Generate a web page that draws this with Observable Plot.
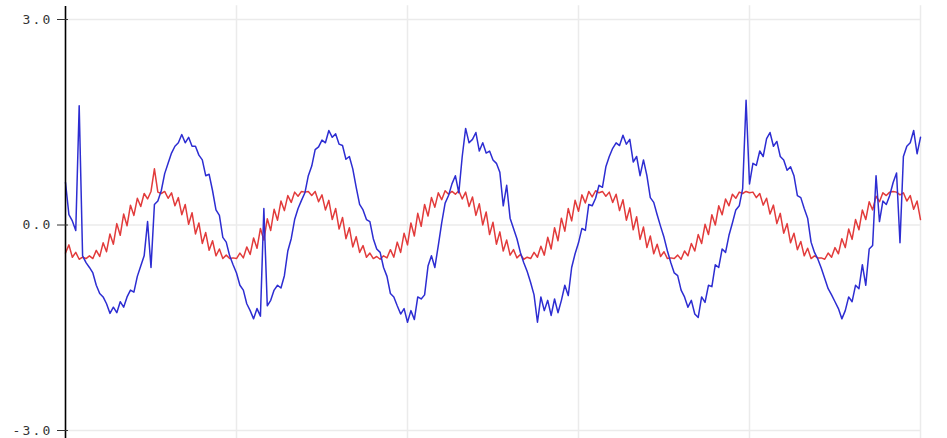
<!DOCTYPE html>
<html><head><meta charset="utf-8">
<script src="https://cdn.jsdelivr.net/npm/d3@7"></script>
<script src="https://cdn.jsdelivr.net/npm/@observablehq/plot@0.6"></script>
<style>html,body{margin:0;padding:0;background:#fff;overflow:hidden}
#chart svg text{letter-spacing:2.2px}</style>
</head><body><div id="chart"></div>
<script>
// sample index (0..250) for each reading
const blueValues = [
  0.62, 0.15, 0.06, -0.08, 1.74, -0.45, -0.55, -0.62, -0.70, -0.88,
  -1.00, -1.05, -1.15, -1.29, -1.20, -1.28, -1.12, -1.20, -1.05, -0.95,
  -0.98, -0.75, -0.60, -0.45, 0.05, -0.62, 0.30, 0.35, 0.50, 0.75,
  0.90, 1.05, 1.15, 1.20, 1.32, 1.20, 1.28, 1.15, 1.15, 1.02,
  0.95, 0.72, 0.74,
  0.50, 0.22, 0.14, -0.18, -0.25, -0.45, -0.58, -0.70, -0.88, -0.95,
  -1.15, -1.25, -1.37, -1.22, -1.33, 0.24, -1.18, -1.10, -0.95, -0.88,
  -0.92, -0.74, -0.38, -0.20, 0.08, 0.24, 0.36, 0.47, 0.72, 0.86,
  1.10, 1.14, 1.24, 1.20, 1.38, 1.28, 1.33, 1.18, 1.16, 0.96,
  1.00, 0.82, 0.55,
  0.30, 0.22, 0.08, 0.05, -0.20, -0.35, -0.40, -0.62, -0.75, -1.00,
  -1.05, -1.18, -1.30, -1.22, -1.42, -1.25, -1.38, -1.05, -1.08, -1.02,
  -0.60, -0.45, -0.62, -0.30, 0.03, 0.32, 0.43, 0.60, 0.72, 0.47,
  1.00, 1.41, 1.20, 1.25, 1.35, 1.08, 1.20, 1.05, 1.08, 0.95,
  0.90, 0.77, 0.28,
  0.58, 0.10, -0.05, -0.20, -0.40, -0.55, -0.68, -0.84, -1.02, -1.42,
  -1.05, -1.25, -1.10, -1.32, -1.08, -1.28, -1.10, -0.88, -1.03, -0.62,
  -0.42, -0.26, -0.05, -0.08, 0.30, 0.28, 0.39, 0.58, 0.55, 0.85,
  1.00, 1.12, 1.20, 1.16, 1.31, 1.18, 1.25, 0.92, 1.00, 0.72,
  0.95, 0.72, 0.40,
  0.33, 0.15, -0.02, -0.18, -0.38, -0.55, -0.70, -0.74, -0.95, -1.05,
  -1.20, -1.10, -1.30, -1.35, -1.05, -1.13, -0.88, -0.90, -0.58, -0.62,
  -0.35, -0.40, -0.15, 0.03, 0.22, 0.28, 0.53, 1.82, 0.60, 0.90,
  0.87, 1.08, 1.00, 1.26, 1.35, 1.15, 1.22, 1.00, 0.95, 0.80,
  0.85, 0.72, 0.43,
  0.40, 0.24, 0.10, -0.25, -0.40, -0.50, -0.63, -0.78, -0.93, -1.02,
  -1.12, -1.22, -1.37, -1.25, -1.05, -1.12, -0.88, -0.93, -0.58, -0.88,
  -0.35, -0.30, 0.72, 0.05, 0.35, 0.30, 0.43, 0.62, 0.76, -0.26,
  1.00, 1.15, 1.20, 1.38, 1.04, 1.28
];
const redValues = [
  -0.41, -0.29, -0.47, -0.40, -0.50, -0.47, -0.49, -0.45, -0.49, -0.37,
  -0.46, -0.26, -0.39, -0.13, -0.28, 0.02, -0.15, 0.16, -0.01, 0.29,
  0.14, 0.39, 0.27, 0.46, 0.38, 0.49, 0.82, 0.48, 0.46, 0.49,
  0.39, 0.47, 0.28, 0.40, 0.15, 0.30, 0.01, 0.18, -0.13, 0.03,
  -0.27, -0.11, -0.37,
  -0.23, -0.45, -0.35, -0.49, -0.44, -0.49, -0.48, -0.49, -0.41, -0.48,
  -0.32, -0.43, -0.19, -0.34, -0.05, -0.22, 0.09, -0.08, 0.23, 0.07,
  0.35, 0.21, 0.43, 0.33, 0.48, 0.42, 0.49, 0.48, 0.49, 0.43,
  0.49, 0.34, 0.44, 0.22, 0.36, 0.08, 0.24, -0.06, 0.11, -0.20,
  -0.04, -0.32, -0.17,
  -0.40, -0.30, -0.47, -0.41, -0.49, -0.46, -0.50, -0.45, -0.48, -0.36,
  -0.47, -0.25, -0.40, -0.12, -0.29, 0.03, -0.16, 0.17, -0.02, 0.30,
  0.13, 0.40, 0.26, 0.47, 0.37, 0.50, 0.45, 0.49, 0.45, 0.50,
  0.38, 0.48, 0.27, 0.41, 0.14, 0.31, 0.00, 0.19, -0.14, 0.04,
  -0.28, -0.10, -0.38,
  -0.22, -0.44, -0.36, -0.48, -0.43, -0.50, -0.47, -0.49, -0.40, -0.47,
  -0.31, -0.44, -0.18, -0.35, -0.04, -0.23, 0.10, -0.09, 0.24, 0.06,
  0.36, 0.20, 0.44, 0.32, 0.49, 0.41, 0.50, 0.47, 0.49, 0.42,
  0.48, 0.33, 0.45, 0.21, 0.37, 0.07, 0.25, -0.07, 0.12, -0.21,
  -0.03, -0.33, -0.16,
  -0.42, -0.28, -0.46, -0.39, -0.49, -0.48, -0.49, -0.44, -0.50, -0.38,
  -0.45, -0.27, -0.38, -0.14, -0.27, 0.01, -0.14, 0.15, 0.00, 0.28,
  0.15, 0.38, 0.28, 0.45, 0.39, 0.48, 0.46, 0.49, 0.47, 0.48,
  0.40, 0.46, 0.29, 0.39, 0.16, 0.29, 0.02, 0.17, -0.12, 0.02,
  -0.26, -0.12, -0.36,
  -0.24, -0.45, -0.34, -0.49, -0.45, -0.48, -0.48, -0.50, -0.41, -0.47,
  -0.33, -0.42, -0.20, -0.33, -0.06, -0.21, 0.08, -0.07, 0.22, 0.08,
  0.34, 0.22, 0.42, 0.34, 0.47, 0.43, 0.48, 0.49, 0.48, 0.44,
  0.47, 0.35, 0.43, 0.23, 0.35, 0.08
];
const yTicks = [-3, 0, 3];
const yTickLabels = ["-3.0", "0.0", "3.0"];
const xGridTicks = [50, 100, 150, 200, 250];
const xDomain = [0, 250];
const yDomain = [-3, 3];

const blueRows = blueValues.map((v, i) => ({i, v}));
const redRows = redValues.map((v, i) => ({i, v}));

const chart = Plot.plot({
  width: 947,
  height: 438,
  marginLeft: 65,
  marginRight: 27,
  marginTop: 19,
  marginBottom: 8,
  x: {domain: xDomain, axis: null},
  y: {domain: yDomain, axis: null},
  style: {background: "#fff", fontFamily: "'DejaVu Sans Mono', monospace"},
  marks: [
    Plot.ruleY(yTicks, {x1: xDomain[0], x2: xDomain[1], stroke: "#ebebeb", strokeWidth: 1.5}),
    Plot.ruleX(xGridTicks, {y1: -3.12, y2: 3.2, stroke: "#ebebeb", strokeWidth: 1.5}),
    Plot.line(redRows, {x: "i", y: "v", stroke: "#e23b3b", strokeWidth: 1.5}),
    Plot.line(blueRows, {x: "i", y: "v", stroke: "#2d2dd2", strokeWidth: 1.5}),
    Plot.ruleX([xDomain[0]], {y1: -3.12, y2: 3.19, stroke: "#000", strokeWidth: 1.6}),
    Plot.axisY({
      ticks: yTicks,
      tickFormat: d => yTickLabels[yTicks.indexOf(d)],
      tickSize: 11,
      dx: 3,
      tickPadding: 5,
      fontSize: 13,
      label: null,
      color: "#333"
    })
  ]
});
document.getElementById("chart").appendChild(chart);
</script>
</body></html>
